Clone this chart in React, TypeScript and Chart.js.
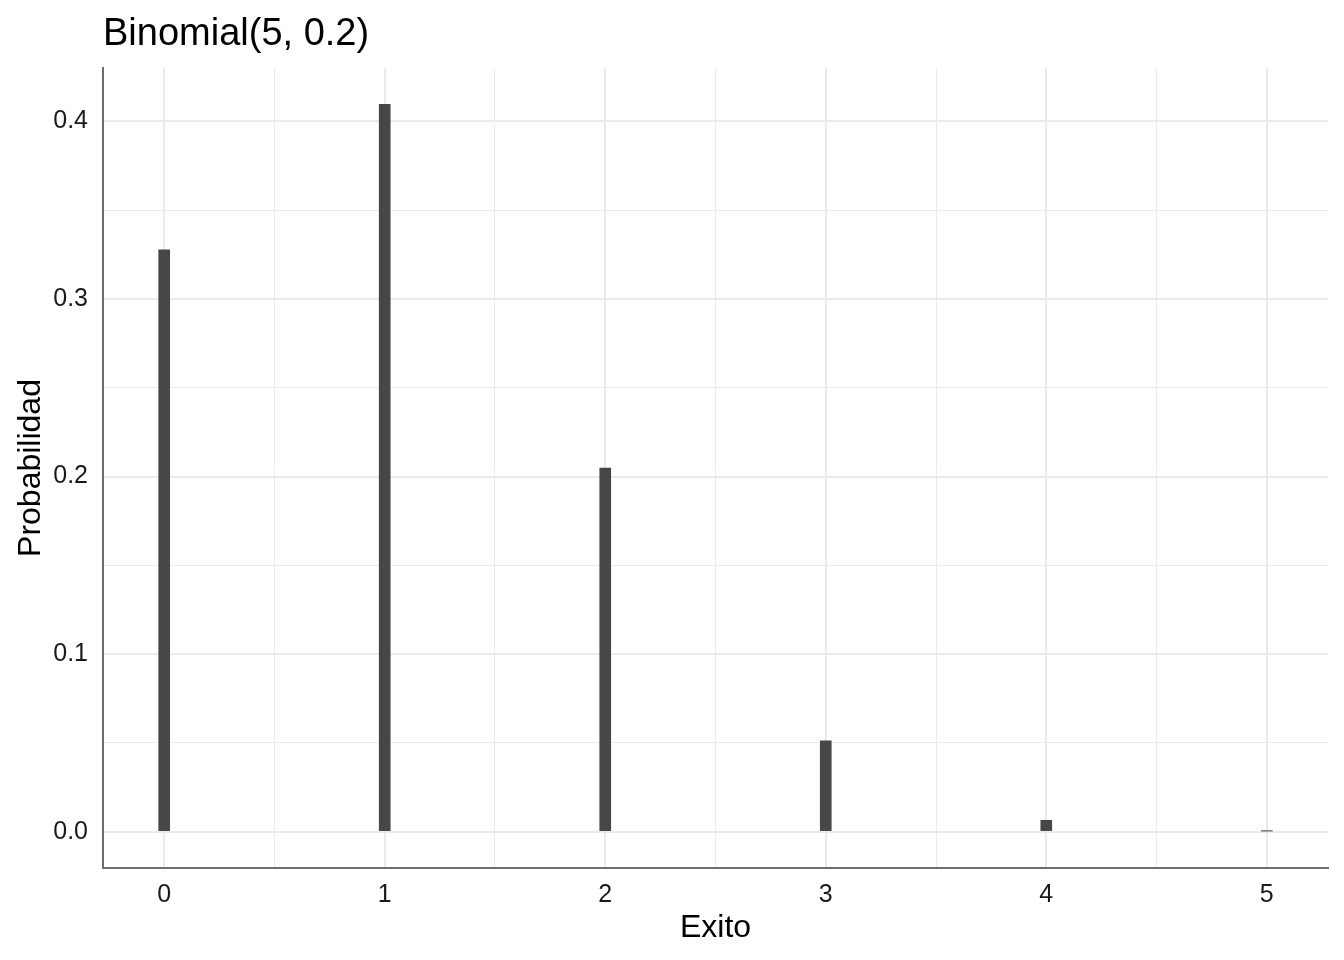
import React, { useEffect, useRef } from "react";
import { Chart, registerables } from "chart.js";

Chart.register(...registerables);

const successes = [0, 1, 2, 3, 4, 5];
const probabilities = [0.32768, 0.4096, 0.2048, 0.0512, 0.0064, 0.00032];
const xTickValues = [0, 0.5, 1, 1.5, 2, 2.5, 3, 3.5, 4, 4.5, 5];
const yTickValues = [0, 0.05, 0.1, 0.15, 0.2, 0.25, 0.3, 0.35, 0.4];
const xMajorLabels = ["0", "1", "2", "3", "4", "5"];
const yMajorLabels = ["0.0", "0.1", "0.2", "0.3", "0.4"];
const chartTitle = "Binomial(5, 0.2)";
const xAxisTitle = "Exito";
const yAxisTitle = "Probabilidad";

const FONT = '"Liberation Sans", Arial, Helvetica, sans-serif';
const GRID = "#EBEBEB";
const AXIS = "#6E6E6E";
const BAR = "#474747";

const isMajor = (v: number, step: number) =>
  Math.abs(v / step - Math.round(v / step)) < 1e-6;

const titlePlugin = {
  id: "leftTitle",
  afterDraw(chart: any) {
    const ctx = chart.ctx;
    ctx.save();
    ctx.font = `38px ${FONT}`;
    ctx.fillStyle = "#000";
    ctx.textAlign = "left";
    ctx.textBaseline = "alphabetic";
    ctx.fillText(chartTitle, chart.chartArea.left, 45);
    ctx.restore();
  },
};

export default function App() {
  const ref = useRef<HTMLCanvasElement | null>(null);

  useEffect(() => {
    if (!ref.current) return;
    const chart = new Chart(ref.current, {
      type: "bar",
      data: {
        datasets: [
          {
            data: successes.map((x, i) => ({ x, y: probabilities[i] })),
            backgroundColor: BAR,
            borderWidth: 0,
            barThickness: 11,
          },
        ],
      },
      options: {
        animation: false,
        responsive: false,
        devicePixelRatio: 1,
        layout: { padding: { top: 68, right: 16, bottom: 0, left: 0 } },
        plugins: {
          legend: { display: false },
          title: { display: false },
          tooltip: { enabled: false },
        },
        scales: {
          x: {
            type: "linear",
            offset: false,
            min: -0.2775,
            max: 5.2775,
            afterBuildTicks: (scale: any) => {
              scale.ticks = xTickValues.map((v) => ({ value: v }));
            },
            afterFit: (scale: any) => {
              scale.height = 92;
              scale.paddingLeft = 0;
              scale.paddingRight = 0;
            },
            ticks: {
              autoSkip: false,
              maxRotation: 0,
              padding: 12,
              color: "#1A1A1A",
              font: { family: FONT, size: 25 },
              callback: (v: any) => {
                const n = Number(v);
                return isMajor(n, 1) ? xMajorLabels[Math.round(n)] : "";
              },
            },
            grid: {
              offset: false,
              color: GRID,
              drawTicks: false,
              lineWidth: (ctx: any) => (ctx.tick && isMajor(ctx.tick.value, 1) ? 2 : 1),
            },
            border: { display: true, color: AXIS, width: 2 },
            title: {
              display: true,
              text: xAxisTitle,
              color: "#000",
              font: { family: FONT, size: 32 },
              padding: { top: 0, bottom: 13 },
            },
          },
          y: {
            type: "linear",
            min: -0.02048,
            max: 0.43008,
            afterBuildTicks: (scale: any) => {
              scale.ticks = yTickValues.map((v) => ({ value: v }));
            },
            afterFit: (scale: any) => {
              scale.width = 103;
              scale.paddingTop = 0;
              scale.paddingBottom = 0;
            },
            ticks: {
              autoSkip: false,
              padding: 15,
              color: "#1A1A1A",
              font: { family: FONT, size: 25 },
              callback: (v: any) => {
                const n = Number(v);
                return isMajor(n, 0.1) ? yMajorLabels[Math.round(n / 0.1)] : "";
              },
            },
            grid: {
              color: GRID,
              drawTicks: false,
              lineWidth: (ctx: any) => (ctx.tick && isMajor(ctx.tick.value, 0.1) ? 2 : 1),
            },
            border: { display: true, color: AXIS, width: 2 },
            title: {
              display: true,
              text: yAxisTitle,
              color: "#000",
              font: { family: FONT, size: 32 },
              padding: { top: 12, bottom: 0 },
            },
          },
        },
      },
      plugins: [titlePlugin],
    });
    return () => chart.destroy();
  }, []);

  return (
    <div style={{ position: "absolute", left: 0, top: 0, width: 1344, height: 960, background: "#fff" }}>
      <canvas ref={ref} width={1344} height={960} style={{ width: 1344, height: 960, display: "block" }} />
    </div>
  );
}
